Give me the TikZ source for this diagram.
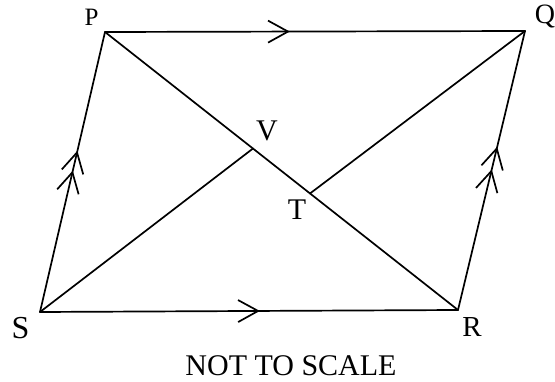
\documentclass[tikz,border=0pt]{standalone}
\usepackage{fontspec}
\setmainfont{Liberation Serif}
\usetikzlibrary{arrows.meta,decorations.markings}
\tikzset{chev/.tip={Straight Barb[length=20pt,width=22pt,line width=1.7pt]}}
\begin{document}
\begin{tikzpicture}[x=1pt,y=-1pt,
  edge/.style={line width=1.7pt, line cap=round, line join=round},
  lbl/.style={inner sep=0pt, font=\fontsize{30}{33}\selectfont},
  onemark/.style={postaction={decorate},decoration={markings,
     mark=at position #1 with {\arrow{chev}}}},
  twomark/.style 2 args={postaction={decorate},decoration={markings,
     mark=at position #1 with {\arrow{chev}},
     mark=at position #2 with {\arrow{chev}}}}]
\useasboundingbox (0,0) rectangle (555,382);
\coordinate (P) at (105,32);
\coordinate (Q) at (525,31);
\coordinate (S) at (40,312);
\coordinate (R) at (458,310);
\coordinate (V) at (253,148.5);
\coordinate (T) at (310,193.5);
% sides
\draw[edge, onemark=0.44] (P) -- (Q);
\draw[edge, onemark=0.526] (S) -- (R);
\draw[edge, twomark={0.505}{0.576}] (S) -- (P);
\draw[edge, twomark={0.504}{0.585}] (R) -- (Q);
% diagonals
\draw[edge] (P) -- (R);
\draw[edge] (S) -- (V);
\draw[edge] (Q) -- (T);
% labels
\node[lbl, font=\fontsize{25}{28}\selectfont] (lP) at (91.5,17) {P};
\node[lbl, font=\fontsize{28}{31}\selectfont] (lQ) at (545,17) {Q};
\node[lbl] (lV) at (267,131) {V};
\node[lbl] (lT) at (297,210) {T};
\node[lbl, font=\fontsize{32}{35}\selectfont] (lS) at (20.5,328.5) {S};
\node[lbl, font=\fontsize{29}{32}\selectfont] (lR) at (472,327.5) {R};
\node[lbl, font=\fontsize{30}{33}\selectfont] (note) at (291,365.5) {NOT TO SCALE};
\end{tikzpicture}
\end{document}
